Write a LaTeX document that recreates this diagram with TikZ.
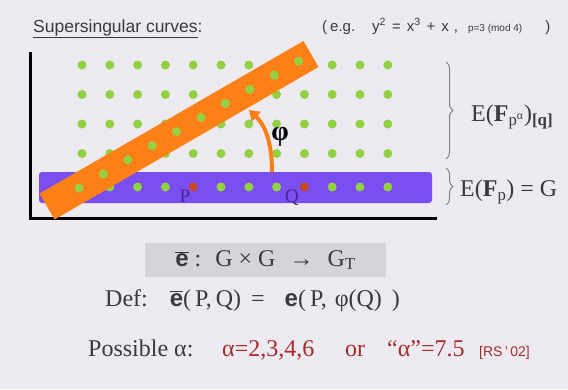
\documentclass[tikz,border=0pt]{standalone}
\usepackage{fontspec}
\setmainfont{Liberation Serif}
\setsansfont{Liberation Sans}
\usetikzlibrary{arrows.meta,decorations.pathreplacing,positioning}
\definecolor{bgcol}{RGB}{237,234,241}
\definecolor{dotgreen}{RGB}{146,210,66}
\definecolor{bandpurple}{RGB}{123,78,242}
\definecolor{bandorange}{RGB}{255,128,22}
\definecolor{dotred}{RGB}{196,72,32}
\definecolor{labpurple}{RGB}{70,40,140}
\definecolor{txtgray}{RGB}{58,58,58}
\definecolor{txtred}{RGB}{168,42,42}
\definecolor{boxgray}{RGB}{214,212,218}
\newcommand{\fsz}[1]{\fontsize{#1}{#1}\selectfont}
\newcommand{\ebar}{$\overline{\mbox{\sffamily\bfseries e}}$}

\begin{document}
\begin{tikzpicture}[x=1pt, y=-1pt, every node/.style={inner sep=0pt, text=txtgray},
  dot/.style={fill=dotgreen},
  brc/.style={decorate, decoration={brace, amplitude=7pt}, draw=gray, line width=1pt}]
  \useasboundingbox (0,0) rectangle (568,389);
  \fill[bgcol] (0,0) rectangle (568,389);
  % Heading
  \node[anchor=base west, font=\sffamily\fsz{17.5}] (title) at (33,32) {\underline{Supersingular curves}:};
  \node[anchor=base west, font=\sffamily\fsz{15}] (example) at (322,31)
    {(\hspace{3pt}e.g.\hspace{17pt}y\textsuperscript{2}\hspace{6pt}=\hspace{6pt}x\textsuperscript{3}\hspace{6pt}+\hspace{6pt}x\hspace{5pt},\hspace{10pt}{\fsz{10}p=3 (mod 4)}\hspace{23pt})};
  % Axes
  \draw[line width=3pt, black] (30,52) -- (30,218) -- (437,218);
  % Points over the extension field
  \foreach \r in {0,...,3}
    \foreach \c in {0,...,11}
      \fill[dot] (82+27.8*\c, 65+29.5*\r) circle (4.5);
  % Base field band
  \fill[bandpurple, rounded corners=3pt] (39,172) rectangle (432,203);
  \foreach \c in {0,1,2,3,5,6,7,9,10,11}
    \fill[dot] (82+27.8*\c, 187) circle (4.5);
  \fill[dotred] (193.2,187) circle (4.5);
  \fill[dotred] (304.4,187) circle (4.5);
  \node[font=\fsz{19}, text=labpurple] (P) at (185,196) {P};
  \node[font=\fsz{19}, text=labpurple] (Q) at (292,198) {Q};
  % Distorted subgroup
  \coordinate (bandlow) at (47,206.5);
  \coordinate (bandhigh) at (311,54);
  \draw[bandorange, line width=30pt] (bandlow) -- (bandhigh);
  \foreach \i in {0,...,9}
    \fill[dot] (79+24.4*\i, 188-14.1*\i) circle (4.5);
  % Distortion map
  \coordinate (phistart) at (272,172);
  \coordinate (phiend) at (249,110);
  \draw[bandorange, line width=4pt, -{Triangle[length=10pt,width=13pt]}]
    (phistart) .. controls (272,140) and (264,124) .. (phiend);
  \node[font=\bfseries\fsz{28}, text=black] (phi) at (280,137) {φ};
  % Group labels
  \draw[brc] (446,62) -- (446,159);
  \node[anchor=west, font=\fsz{24}] (ext) at (471,117) {E(\textbf{F}\textsubscript{p\textsuperscript{α}})\textsubscript{\textbf{[q]}}};
  \draw[brc] (446,168) -- (446,205);
  \node[anchor=west, font=\fsz{24}] (base) at (460,192) {E(\textbf{F}\textsubscript{p}) = G};
  % Pairing
  \node[fill=boxgray, minimum width=241pt, minimum height=34pt, font=\fsz{24}] (pairing) at (265.5,260)
    {\ebar\hspace{6pt}:\hspace{14pt}G\hspace{6pt}×\hspace{6pt}G\hspace{14pt}{\sffamily\bfseries →}\hspace{14pt}G\textsubscript{T}};
  \node[anchor=base west, font=\fsz{24}] (def) at (105,306)
    {Def:\hspace{22pt}\ebar(\,P,\,Q)\hspace{10pt}=\hspace{20pt}{\sffamily\bfseries e}(\,P,\hspace{8pt}φ(Q)\hspace{10pt})};
  \node[anchor=base west, font=\fsz{24}] (possible) at (88,356) {Possible α:};
  \node[anchor=base west, font=\fsz{24}, text=txtred] (alphas) at (222,356) {α=2,3,4,6};
  \node[anchor=base west, font=\fsz{24}, text=txtred] (or) at (345,356) {or};
  \node[anchor=base west, font=\fsz{24}, text=txtred] (fake) at (387,356) {“α”=7.5};
  \node[anchor=base west, font=\sffamily\fsz{14}, text=txtred] (cite) at (479,356) {[RS\,'\,02]};
\end{tikzpicture}
\end{document}
